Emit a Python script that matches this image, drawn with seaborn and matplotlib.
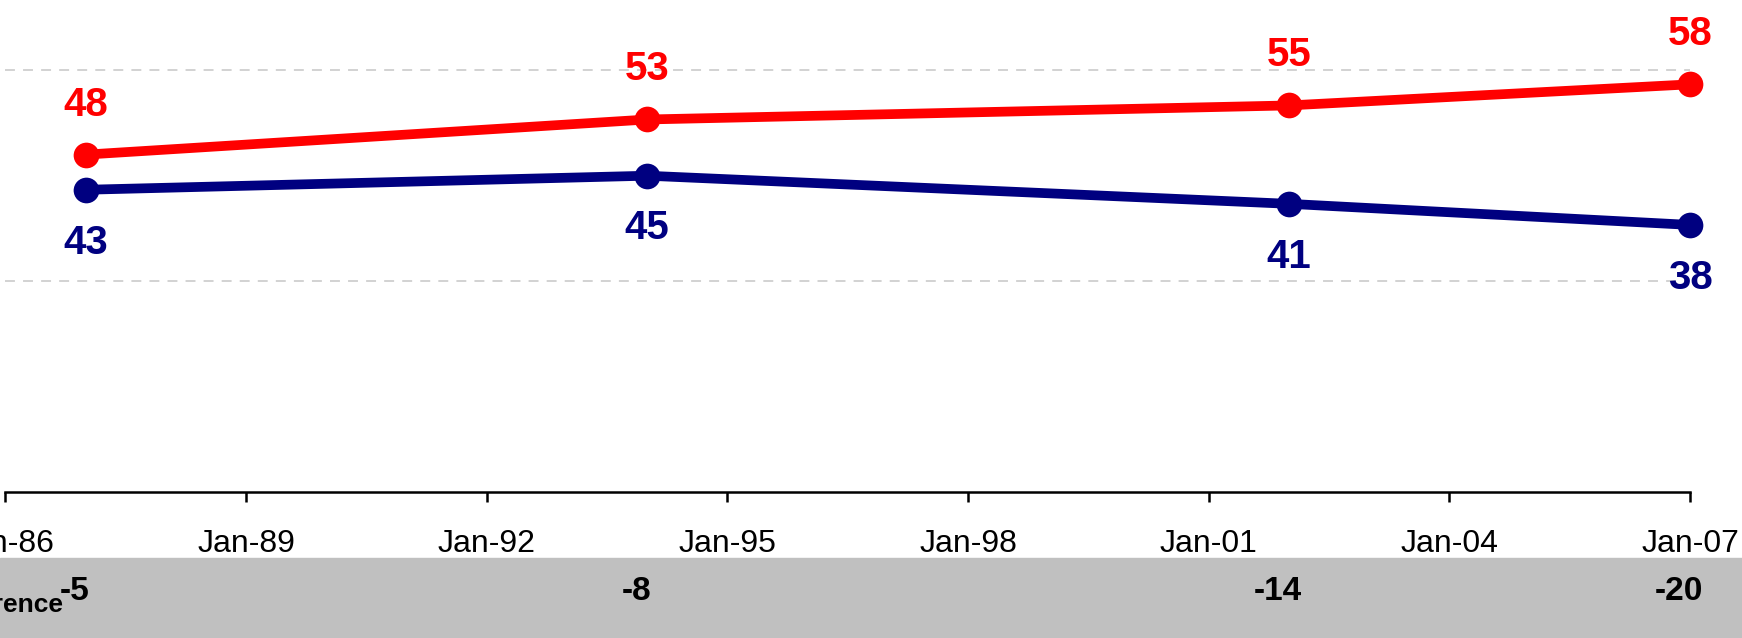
import matplotlib
matplotlib.use("Agg")
import matplotlib.pyplot as plt
import matplotlib.dates as mdates
from matplotlib.patches import Rectangle
import pandas as pd
import seaborn as sns

# values
dates = pd.to_datetime(["1987-01-01", "1994-01-01", "2002-01-01", "2007-01-01"])
top_vals = [48, 53, 55, 58]
bottom_vals = [43, 45, 41, 38]
differences = [b - t for t, b in zip(top_vals, bottom_vals)]
grid_vals = [30, 60]
axis_start = pd.Timestamp("1986-01-01")
axis_end = pd.Timestamp("2007-01-01")

df = pd.DataFrame({
    "date": list(dates) * 2,
    "value": top_vals + bottom_vals,
    "series": ["top"] * 4 + ["bottom"] * 4,
})

sns.set_style("white")
plt.rcParams["font.family"] = ["Liberation Sans", "DejaVu Sans"]

W, H = 1742, 638
fig = plt.figure(figsize=(W / 100, H / 100), dpi=100)
ax = fig.add_axes([0, 1 - 492 / H, 1, 492 / H])

# grey band for the difference row
fig.patches.append(Rectangle((0, 0), 1, 80 / H, transform=fig.transFigure,
                             color="#C0C0C0", zorder=-5))

palette = {"top": "#FF0000", "bottom": "#000080"}
sns.lineplot(data=df, x="date", y="value", hue="series", palette=palette,
             marker="o", markersize=18.5, markeredgewidth=0, linewidth=7,
             legend=False, ax=ax, zorder=3)

ax.hlines(grid_vals, axis_start, axis_end, colors="#CFCFCF", linewidth=1.3,
          linestyles=(0, (5.5, 4.5)), zorder=1)

# x limits so that Jan-86 and Jan-07 land where they do in the picture
s = mdates.date2num(axis_start)
e = mdates.date2num(axis_end)
per_px = (e - s) / (1690 - 5.5)
ax.set_xlim(s - 5.5 * per_px, e + (W - 1690) * per_px)
ax.set_ylim(0, 70)

for d, v in zip(dates, top_vals):
    ax.annotate(str(v), (d, v), xytext=(0, 36), textcoords="offset points",
                ha="center", va="center", color="#FF0000", fontsize=29,
                fontweight="bold", annotation_clip=False)
for d, v in zip(dates, bottom_vals):
    ax.annotate(str(v), (d, v), xytext=(0, -38), textcoords="offset points",
                ha="center", va="center", color="#000080", fontsize=29,
                fontweight="bold", annotation_clip=False)

for d, v in zip(dates, differences):
    ax.annotate(str(v), (mdates.date2num(d), 1 - 592 / H),
                xycoords=("data", "figure fraction"), xytext=(-8, 0),
                textcoords="offset points", ha="center", va="center",
                fontsize=24, fontweight="bold", color="black",
                annotation_clip=False)
fig.text(63 / W, 1 - 612 / H, "Difference", ha="right", va="baseline",
         fontsize=19, fontweight="bold", color="black")

ax.xaxis.set_major_locator(mdates.YearLocator(3, month=1, day=1))
ax.xaxis.set_major_formatter(mdates.DateFormatter("%b-%y"))
ax.tick_params(axis="x", direction="out", length=7, width=1.8, pad=20,
               labelsize=23, colors="black", bottom=True)
ax.set_yticks([])
ax.set_xlabel("")
ax.set_ylabel("")
for side in ["top", "left", "right"]:
    ax.spines[side].set_visible(False)
ax.spines["bottom"].set_linewidth(1.8)
ax.spines["bottom"].set_color("black")
ax.spines["bottom"].set_bounds(s, e)
ax.patch.set_alpha(0)

fig.savefig("out.png", dpi=100)
